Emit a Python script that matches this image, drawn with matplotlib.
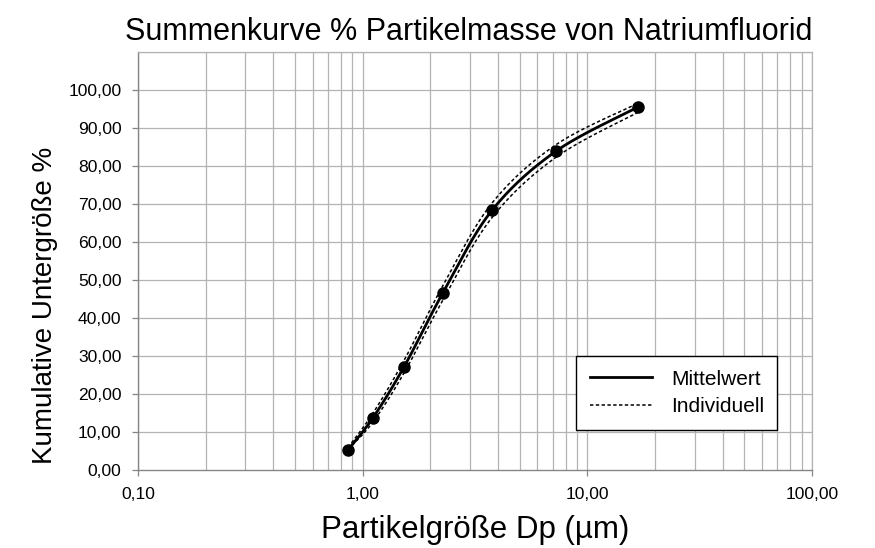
import numpy as np
import matplotlib
matplotlib.use("Agg")
import matplotlib.pyplot as plt
from matplotlib.ticker import FixedLocator, NullLocator

plt.rcParams['font.family'] = ['Liberation Sans', 'DejaVu Sans']

# Data
dp = [0.86, 1.11, 1.53, 2.28, 3.76, 7.25, 16.8]
mittelwert = [5.3, 13.7, 27.2, 46.7, 68.3, 83.9, 95.5]
indiv_upper = [5.9, 14.9, 28.9, 48.6, 70.2, 85.6, 96.5]
indiv_lower = [5.4, 12.6, 25.6, 44.8, 66.4, 82.3, 94.1]

x_ticks = [0.1, 1, 10, 100]
x_ticklabels = ['0,10', '1,00', '10,00', '100,00']
y_ticks = list(range(0, 101, 10))
y_ticklabels = [f'{v},00' for v in y_ticks]

title = 'Summenkurve % Partikelmasse von Natriumfluorid'
xlabel = 'Partikelgröße Dp (µm)'
ylabel = 'Kumulative Untergröße %'


def smooth(xs, ys, n=40, sx=224.7, sy=3.79):
    P = np.column_stack([np.log10(xs) * sx, np.asarray(ys, float) * sy])
    out = []
    m = len(P)
    t = np.linspace(0, 1, n)[:, None]
    for i in range(m - 1):
        p0 = P[i - 1] if i > 0 else P[i]
        p1 = P[i]
        p2 = P[i + 1]
        p3 = P[i + 2] if i + 2 < m else P[i + 1]
        c1 = p1 + (p2 - p0) / 6
        c2 = p2 - (p3 - p1) / 6
        seg = ((1 - t) ** 3) * p1 + 3 * ((1 - t) ** 2) * t * c1 + 3 * (1 - t) * t ** 2 * c2 + t ** 3 * p2
        out.append(seg if i == 0 else seg[1:])
    S = np.vstack(out)
    return 10 ** (S[:, 0] / sx), S[:, 1] / sy


fig = plt.figure(figsize=(8.75, 5.48), dpi=100)
ax = fig.add_axes([138 / 875, 1 - 470 / 548, (812 - 138) / 875, (470 - 52) / 548])
ax.set_xscale('log')
ax.set_xlim(0.1, 100)
ax.set_ylim(0, 110)

grid_c = '#b3b3b3'
minor = [m * 10.0 ** e for e in range(-1, 2) for m in range(2, 10)]
for xv in minor + x_ticks:
    ax.axvline(xv, color=grid_c, lw=0.9, zorder=0)
for yv in range(10, 111, 10):
    ax.axhline(yv, color=grid_c, lw=0.9, zorder=0)

ux, uy = smooth(dp, indiv_upper)
lx, ly = smooth(dp, indiv_lower)
mx, my = smooth(dp, mittelwert)
ax.plot(ux, uy, color='black', lw=1.1, dashes=(2.2, 1.6), zorder=2)
ax.plot(lx, ly, color='black', lw=1.1, dashes=(2.2, 1.6), zorder=2)
ax.plot(mx, my, color='black', lw=2.0, zorder=3)
ax.plot(dp, mittelwert, 'o', color='black', ms=8, zorder=4)

h1, = ax.plot([], [], color='black', lw=2.0, label='Mittelwert')
h2, = ax.plot([], [], color='black', lw=1.1, dashes=(2.2, 1.6), label='Individuell')
leg = ax.legend(handles=[h1, h2], loc='upper left',
                bbox_to_anchor=((576 - 138) / 674, (470 - 356) / 418),
                fontsize=15, frameon=True, fancybox=False, edgecolor='black', framealpha=1,
                handlelength=3.0, handletextpad=0.9, borderpad=0.65, labelspacing=0.42,
                borderaxespad=0)
leg.get_frame().set_linewidth(1.0)

ax.xaxis.set_major_locator(FixedLocator(x_ticks))
ax.xaxis.set_minor_locator(NullLocator())
ax.set_xticks(x_ticks)
ax.set_xticklabels(x_ticklabels)
ax.set_yticks(y_ticks)
ax.set_yticklabels(y_ticklabels)
ax.tick_params(axis='both', which='major', length=4, width=0.9, color='#868686', labelsize=12.6)
ax.tick_params(axis='x', pad=8)
ax.tick_params(axis='y', pad=8)

for s in ['left', 'bottom']:
    ax.spines[s].set_color('#868686')
    ax.spines[s].set_linewidth(1.0)
for s in ['top', 'right']:
    ax.spines[s].set_color(grid_c)
    ax.spines[s].set_linewidth(0.9)

fig.text(469 / 875, 1 - 32 / 548, title, ha='center', va='center', fontsize=22)
fig.text(475 / 875, 1 - 530 / 548, xlabel, ha='center', va='center', fontsize=22.5)
fig.text(45 / 875, 1 - 305 / 548, ylabel, ha='center', va='center', rotation=90, fontsize=20)

fig.savefig('out.png', dpi=100)
